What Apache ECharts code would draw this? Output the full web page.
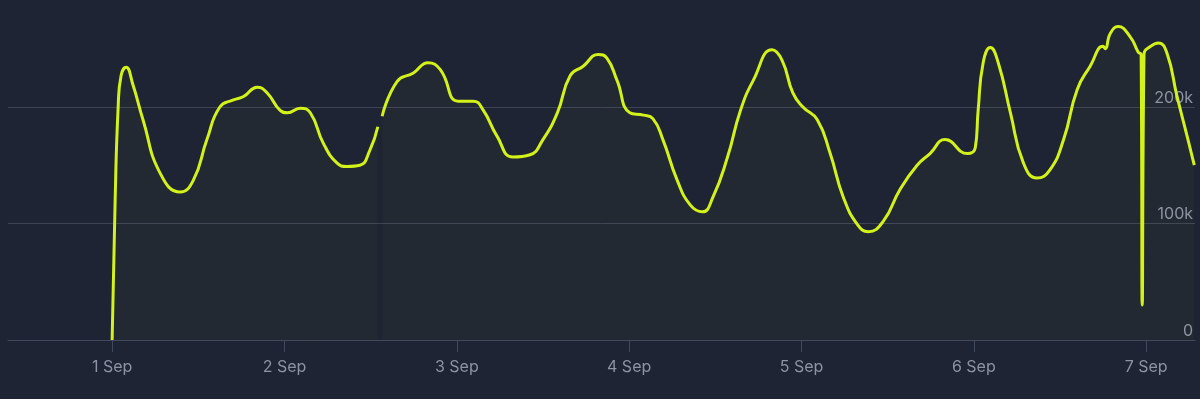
<!DOCTYPE html>
<html lang="en">

<head>
    <meta charset="UTF-8">
    <title>Document</title>
    <style>
        html, body { margin: 0; padding: 0; background: #1e2433; }
    </style>
</head>

<body>
    <div id="main" style="width: 1200px; height:399px"></div>
    <script src="https://cdn.jsdelivr.net/npm/echarts@6/dist/echarts.min.js"></script>
    <script type="text/javascript">
        var myChart = echarts.init(document.getElementById('main'));

        // hours since 1 Sep 00:00
        var hours = [0, 0.42, 0.84, 1.25, 1.95, 2.9, 4.3, 6.7, 9.5, 11.3, 13.2, 15.0, 16.9, 18.3, 20.2, 21.6, 23.4, 24.4, 26.2, 27.6,
            29.4, 31.3, 32.7, 34.5, 35.9, 37.0, 37.3, 37.6, 39.7, 41.9, 44.0, 45.7, 48.2, 50.3, 51.7, 53.6, 55.8, 58.2,
            60.0, 62.0, 63.8, 65.6, 67.7, 68.9, 70.3, 72.1, 74.0, 75.3, 76.7, 78.7, 80.5, 82.2, 83.7, 85.7, 87.5, 89.3,
            91.9, 93.3, 94.8, 96.2, 98.2, 100.0, 101.8, 103.8, 105.3, 107.4, 109.7, 112.1, 113.9, 116.0, 119.1, 120.2,
            120.6, 121.3, 122.3, 123.4, 125.1, 126.9, 128.8, 130.6, 132.5, 134.4, 136.2, 138.0, 138.3, 139.0, 140.1,
            141.8, 142.9, 143.3, 143.45, 143.7, 144.6, 145.7, 146.9, 148.3, 149.7, 150.7];
        // users, thousands
        var users = [0, 120, 200, 227, 234, 219, 189, 143, 127, 137, 172, 200, 206, 209, 217, 212, 197, 195, 199, 195,
            169, 152, 149, 150, 163, 183, null, 192, 222, 229, 238, 232, 205, 205, 197, 175, 157, 159,
            172, 195, 227, 235, 245, 242, 223, 195, 193, 190, 172, 137, 116, 110, 123, 157, 197, 223,
            249, 240, 212, 200, 189, 160, 123, 99, 93, 102, 129, 150, 160, 172, 160, 165,
            197, 238, 251, 238, 195, 152, 139, 146, 172, 215, 235, 252, 250, 263, 269,
            260, 247, 245, 30, 245, 252, 255, 246, 209, 175, 150];
        var dayTicks = [0, 24, 48, 72, 96, 120, 144];
        var dayLabels = ['1 Sep', '2 Sep', '3 Sep', '4 Sep', '5 Sep', '6 Sep', '7 Sep'];
        var userTicks = [0, 100000, 200000];
        var userLabels = ['0', '100k', '200k'];

        var seriesData = [];
        for (var i = 0; i < hours.length; i++) {
            seriesData.push([hours[i], users[i] === null ? null : users[i] * 1000]);
        }

        var option = {
            backgroundColor: '#1e2433',
            animation: false,
            grid: {
                left: 8,
                right: 5,
                top: 0,
                bottom: 59
            },
            xAxis: {
                type: 'value',
                min: -14.5,
                max: 150.8,
                splitLine: { show: false },
                axisLine: { lineStyle: { color: '#414a5c', width: 1 } },
                axisTick: {
                    customValues: dayTicks,
                    length: 12,
                    lineStyle: { color: '#414a5c' }
                },
                axisLabel: {
                    customValues: dayTicks,
                    margin: 19,
                    color: '#8b93a4',
                    fontSize: 16,
                    fontFamily: 'Inter',
                    formatter: function (v) {
                        return dayLabels[dayTicks.indexOf(v)];
                    }
                }
            },
            yAxis: {
                type: 'value',
                position: 'right',
                min: 0,
                max: 291800,
                axisLine: { show: false },
                axisTick: { show: false, customValues: userTicks },
                splitLine: { lineStyle: { color: '#3c4456', width: 1 } },
                axisLabel: {
                    customValues: userTicks,
                    inside: true,
                    margin: 2,
                    verticalAlign: 'bottom',
                    padding: [0, 0, 1, 0],
                    color: '#8b93a4',
                    fontSize: 16,
                    fontFamily: 'Inter',
                    formatter: function (v) {
                        return userLabels[userTicks.indexOf(v)];
                    }
                }
            },
            series: [{
                type: 'line',
                data: seriesData,
                smooth: 0.5,
                showSymbol: false,
                connectNulls: false,
                lineStyle: { color: '#d3f21a', width: 3 },
                itemStyle: { color: '#d3f21a' },
                areaStyle: { color: 'rgba(211, 242, 26, 0.035)' }
            }]
        };
        myChart.setOption(option);
    </script>

</body>

</html>
